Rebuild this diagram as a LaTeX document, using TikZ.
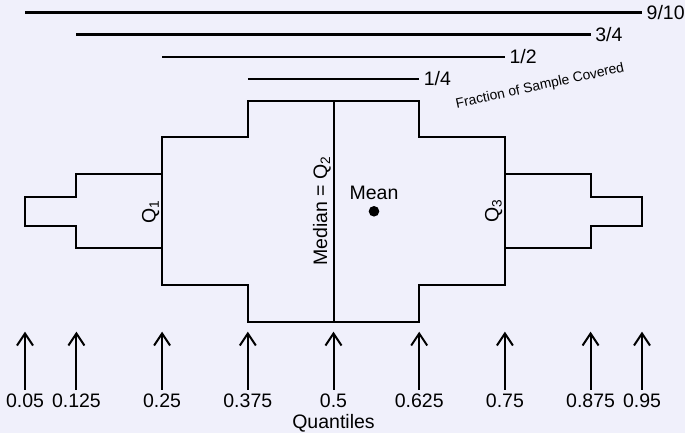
\documentclass[tikz,border=0pt]{standalone}
\usepackage{fontspec}
\setmainfont{Liberation Sans}
\usetikzlibrary{arrows.meta}
\definecolor{bg}{RGB}{240,240,251}
\begin{document}
\begin{tikzpicture}[x=1pt,y=-1pt,
  lbl/.style={font=\fontsize{19.5}{23}\selectfont, inner sep=0pt},
  qlbl/.style={lbl, anchor=base, inner sep=3.5pt},
  toplbl/.style={lbl, anchor=base west, xshift=4.5pt, yshift=-6.8pt},
  bar/.style={line width=2.1pt},
  shp/.style={line width=2pt, line join=miter},
  qarrow/.style={line width=2pt, -{Straight Barb[length=12pt,width=16pt,line width=2pt]}},
  sidelbl/.style={lbl, rotate=90, anchor=south, inner sep=2.5pt},
]
\fill[bg] (0,0) rectangle (685,433);
\useasboundingbox (0,0) rectangle (685,433);

% coverage lines
\coordinate (f9a) at (25,12.5);   \coordinate (f9b) at (642,12.5);
\coordinate (f3a) at (76.4,34.5); \coordinate (f3b) at (590.6,34.5);
\coordinate (f2a) at (162.1,56.7);\coordinate (f2b) at (504.9,56.7);
\coordinate (f1a) at (247.8,79);  \coordinate (f1b) at (419.2,79);
\draw[bar] (f9a) -- (f9b);
\draw[bar] (f3a) -- (f3b);
\draw[bar] (f2a) -- (f2b);
\draw[bar] (f1a) -- (f1b);
\node[toplbl] (l9) at (f9b) {9/10};
\node[toplbl] (l3) at (f3b) {3/4};
\node[toplbl] (l2) at (f2b) {1/2};
\node[toplbl] (l1) at (f1b) {1/4};
\node[font=\fontsize{13.8}{16}\selectfont, inner sep=0pt, anchor=base west, rotate=12.3] (frac) at (456.7,108.3) {Fraction of Sample Covered};

% distribution shape
\draw[shp] (25,196.5) -- (76.4,196.5) -- (76.4,174.4) -- (162.1,174.4) -- (162.1,137.5)
  -- (247.8,137.5) -- (247.8,100.7) -- (419.2,100.7) -- (419.2,137.5) -- (504.9,137.5)
  -- (504.9,174.4) -- (590.6,174.4) -- (590.6,196.5) -- (642,196.5) -- (642,225.9)
  -- (590.6,225.9) -- (590.6,248) -- (504.9,248) -- (504.9,284.9) -- (419.2,284.9)
  -- (419.2,321.7) -- (247.8,321.7) -- (247.8,284.9) -- (162.1,284.9) -- (162.1,248)
  -- (76.4,248) -- (76.4,225.9) -- (25,225.9) -- cycle;
\draw[shp] (162.1,174.4) -- (162.1,248);
\draw[shp] (504.9,174.4) -- (504.9,248);
\draw[shp] (333.5,100.7) -- (333.5,321.7);

\node[sidelbl] (qa) at (162.1,212) {Q\textsubscript{1}};
\node[sidelbl] (qb) at (333.5,211.2) {Median = Q\textsubscript{2}};
\node[sidelbl] (qc) at (504.9,211) {Q\textsubscript{3}};
\node[lbl, anchor=base] (mean) at (374,199.3) {Mean};
\node[circle, fill=black, inner sep=0pt, minimum size=10.6pt] (meandot) at (374,211.3) {};

% quantile arrows
\foreach \i/\x/\t in {1/25/0.05, 2/76.4/0.125, 3/162.1/0.25, 4/247.8/0.375, 5/333.5/0.5,
                      6/419.2/0.625, 7/504.9/0.75, 8/590.6/0.875, 9/642/0.95} {
  \node[qlbl] (q\i) at (\x,407.3) {\t};
  \coordinate (tip\i) at (\x,331.7);
  \draw[qarrow] (q\i.north) -- (tip\i);
}
\node[lbl, anchor=base] (quant) at (333.5,428.5) {Quantiles};
\end{tikzpicture}
\end{document}
